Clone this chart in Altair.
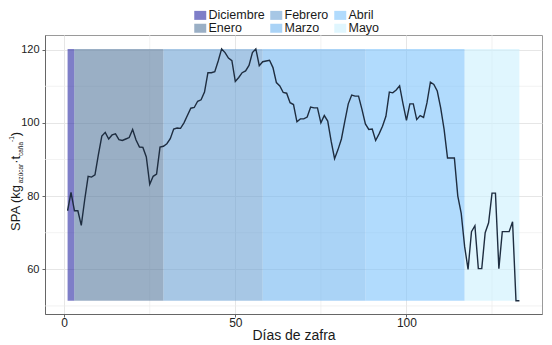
import altair as alt
import pandas as pd

# ---- data ----
days = list(range(1, 134))
spa = [76, 81, 76, 76, 72, 79, 85.4, 85.2, 85.8, 91.3,
       96.4, 97.4, 95.6, 96.7, 97, 95.4, 95.2, 95.6, 96, 98.2,
       95.3, 93.4, 93.3, 90.7, 83.2, 85.4, 86, 93.4, 93.6, 94.3,
       95.7, 98.3, 98.6, 98.5, 100, 102, 104, 104.2, 105.9, 106.3,
       108.4, 113.7, 113.7, 114, 116.9, 120.2, 119.2, 117.7, 117, 111.3,
       112.4, 113.7, 114.2, 115.7, 119.2, 120.2, 115.6, 116.7, 116.9, 117.1,
       115.1, 111, 110.1, 108.3, 108.1, 105.5, 105, 100.3, 101.1, 101.1,
       101.6, 104.3, 104.1, 104.1, 100, 102, 100.5, 95, 90.2, 92.7,
       95.6, 100.5, 105.2, 107.6, 107.3, 107.3, 103.7, 99.7, 98.2, 98.3,
       95.2, 97, 99.1, 101.8, 108.4, 108.2, 109, 110.1, 105.2, 100.7,
       105.2, 105.2, 100.9, 102, 101.5, 105.5, 111.1, 110.5, 108.7, 104.1,
       98.2, 90.4, 90.4, 90.4, 80, 75.3, 66.2, 60, 70.3, 71.9,
       60.2, 60.2, 70, 72.7, 80.8, 80.8, 60.2, 70.3, 70.3, 70.3,
       73, 51.4, 51.4]

months = ["Diciembre", "Enero", "Febrero", "Marzo", "Abril", "Mayo"]
month_start = [1, 3, 29, 58, 88, 117]
month_end = [3, 29, 58, 88, 117, 133]

# legend order (column-major in a 3-column grid)
legend_order = ["Diciembre", "Febrero", "Abril", "Enero", "Marzo", "Mayo"]
month_colors = {"Diciembre": "#2828a3", "Enero": "#577a9e", "Febrero": "#6ca2d4",
                "Marzo": "#71b6f0", "Abril": "#7dc3fc", "Mayo": "#cbf0fd"}

x_major = [0, 50, 100]
x_minor = [25, 75, 125]
y_major = [60, 80, 100, 120]
y_minor = [50, 70, 90, 110]

line_df = pd.DataFrame({"dia": days, "spa": spa})
ymin, ymax = min(spa), max(spa)
rect_df = pd.DataFrame({"mes": months, "x1": month_start, "x2": month_end,
                        "y1": [ymin] * 6, "y2": [ymax] * 6})

W, H = 497, 279
xscale = alt.Scale(domain=[-5.6, 139.6], nice=False, zero=False)
yscale = alt.Scale(domain=[47.8, 124.0], nice=False, zero=False)

xaxis = alt.Axis(values=x_major, title="Días de zafra", grid=True,
                 tickSize=3, labelPadding=0, labelFontSize=12, titleFontSize=14,
                 titlePadding=0, titleFontWeight="normal")
yaxis = alt.Axis(values=y_major, title=None, grid=True,
                 tickSize=3, labelPadding=3, labelFontSize=11)

minor_x = alt.Chart(pd.DataFrame({"v": x_minor})).mark_rule(
    color="#ececec", strokeWidth=0.7).encode(x=alt.X("v:Q", scale=xscale, axis=xaxis))
minor_y = alt.Chart(pd.DataFrame({"v": y_minor})).mark_rule(
    color="#ececec", strokeWidth=0.7).encode(y=alt.Y("v:Q", scale=yscale, axis=yaxis))

rects = alt.Chart(rect_df).mark_rect(opacity=0.6).encode(
    x=alt.X("x1:Q", scale=xscale, axis=xaxis),
    x2="x2:Q",
    y=alt.Y("y1:Q", scale=yscale, axis=yaxis),
    y2="y2:Q",
    color=alt.Color("mes:N",
                    scale=alt.Scale(domain=legend_order,
                                    range=[month_colors[m] for m in legend_order]),
                    legend=alt.Legend(title=None, orient="none", legendX=149, legendY=-26,
                                      columns=3, direction="horizontal",
                                      symbolType="M-1.2,-0.9H1.2V0.9H-1.2Z", symbolSize=100,
                                      symbolStrokeWidth=0, labelFontSize=12.5,
                                      labelOffset=2, rowPadding=-7, columnPadding=5,
                                      labelColor="#1a1a1a")),
)

line = alt.Chart(line_df).mark_line(color="#1e2d40", strokeWidth=1.4).encode(
    x=alt.X("dia:Q", scale=xscale, axis=xaxis),
    y=alt.Y("spa:Q", scale=yscale, axis=yaxis),
)

# y-axis title with subscripts / superscript
pieces = [("SPA (kg", 13, 0), ("azúcar", 6.5, 3), ("·t", 13, 0),
          ("caña", 6.5, 3), ("-1", 6.5, -6), (")", 13, 0)]
widths_em = {"SPA (kg": 3.668, "azúcar": 3.001, "·t": 0.6, "caña": 2.168, "-1": 0.889, ")": 0.333}
title_layers = []
ypos = 196.0
for txt, fs, shift in pieces:
    title_layers.append(
        alt.Chart(pd.DataFrame({"t": [txt]})).mark_text(
            angle=270, align="left", baseline="alphabetic", fontSize=fs,
            font="Liberation Sans", color="#1a1a1a"
        ).encode(text="t:N", x=alt.value(-25 + shift), y=alt.value(ypos))
    )
    ypos -= widths_em[txt] * fs

chart = alt.layer(minor_x, minor_y, rects, line, *title_layers).properties(
    width=W, height=H,
    autosize=alt.AutoSizeParams(type="none"),
    padding={"left": 37, "top": 27, "right": 2, "bottom": 29},
).configure(font="Liberation Sans").configure_view(
    stroke="#9a9a9a", strokeWidth=1
).configure_axis(
    gridColor="#e6e6e6", domainColor="#666666", tickColor="#666666",
    labelColor="#222222", titleColor="#1a1a1a", labelFont="Liberation Sans",
    titleFont="Liberation Sans"
)

chart.save("out.html", embed_options={"renderer": "svg", "actions": False})
